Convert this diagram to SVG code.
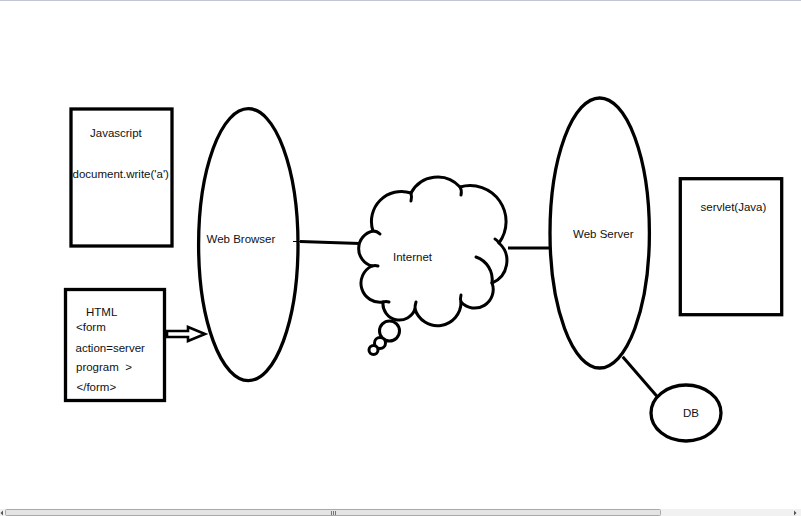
<svg xmlns="http://www.w3.org/2000/svg" width="801" height="516" viewBox="0 0 801 516">
<style>
.shape{fill:#fff;stroke:#000;stroke-width:3.3}
.line{fill:none;stroke:#000;stroke-width:3}
.t{font-family:"Liberation Sans",Arial,sans-serif;font-size:11.5px;fill:#111}
</style>
<rect x="0" y="0" width="801" height="516" fill="#fff"/>
<line x1="0" y1="0.5" x2="801" y2="0.5" stroke="#c2c6d2" stroke-width="1"/>

<g id="connectors">
<line class="line" x1="300" y1="241.5" x2="360" y2="243.5"/>
<line class="line" x1="508" y1="248" x2="551" y2="248"/>
<line class="line" x1="622.7" y1="356.7" x2="656.7" y2="396"/>
<polygon points="167,331 188,331 188,327 205,334 188,341 188,337 167,337" fill="#fff" stroke="#000" stroke-width="2.6" stroke-linejoin="miter"/>
</g>

<g id="javascript">
<rect class="shape" x="71" y="109" width="101" height="137"/>
<text class="t" x="90" y="137">Javascript</text>
<text class="t" x="72.5" y="178">document.write('a')</text>
</g>

<g id="html">
<rect class="shape" x="65.5" y="289.5" width="99" height="111"/>
<text class="t" x="86" y="316">HTML</text>
<text class="t" x="76" y="331">&lt;form</text>
<text class="t" x="75.5" y="352">action=server</text>
<text class="t" x="76" y="371">program&#160; &gt;</text>
<text class="t" x="76.5" y="391">&lt;/form&gt;</text>
</g>

<g id="web-browser">
<ellipse class="shape" cx="248.3" cy="244.7" rx="49.7" ry="136"/>
<text class="t" x="206.5" y="243">Web Browser</text>
<g stroke="#000" stroke-width="1">
<line x1="293" y1="241.5" x2="303" y2="241.5"/>
<line x1="298" y1="236.5" x2="298" y2="246.5"/>
</g>
</g>

<g id="internet">
<path class="line" stroke-width="3.4" stroke-linejoin="round" d="M373,231 A30,30 0 0,1 411,193 A30,30 0 0,1 460,187 A36,36 0 0,1 499,243 A24,24 0 0,1 492,283 A18.5,18.5 0 0,1 461,302 A23.5,23.5 0 0,1 415,309 A16.5,16.5 0 0,1 383,302 A19,19 0 0,1 372,266 A18,18 0 0,1 373,231 Z" fill="#fff"/>
<g class="line" stroke-width="3.2" stroke-linecap="round">
<path d="M373,231 Q377,231 380,234"/>
<path d="M411,193 Q412,197 411,201"/>
<path d="M460,187 Q462,190 461,195"/>
<path d="M499,243 Q497,240 495,239"/>
<path d="M476,257 A24,24 0 0,1 492,283"/>
<path d="M461,302 Q460,299 461,295"/>
<path d="M415,309 Q415,305 416,302"/>
<path d="M383,302 Q386,301 389,302"/>
<path d="M372,266 Q375,265 378,266"/>
</g>
<circle cx="389.5" cy="331" r="10" fill="#fff" stroke="#000" stroke-width="3"/>
<circle cx="380" cy="343" r="5.5" fill="#fff" stroke="#000" stroke-width="3"/>
<circle cx="373.5" cy="350" r="4.5" fill="#fff" stroke="#000" stroke-width="3"/>
<text class="t" x="393" y="261">Internet</text>
</g>

<g id="web-server">
<ellipse class="shape" cx="599.7" cy="233" rx="49.7" ry="135"/>
<text class="t" x="573" y="238">Web Server</text>
</g>

<g id="servlet">
<rect class="shape" x="680.3" y="178.7" width="101.4" height="136"/>
<text class="t" x="700.5" y="211">servlet(Java)</text>
</g>

<g id="db">
<ellipse class="shape" cx="686" cy="413" rx="35" ry="28"/>
<text class="t" x="683" y="417">DB</text>
</g>

<g id="scrollbar">
<rect x="0" y="509" width="801" height="7" fill="#f1f1f1"/>
<rect x="5.5" y="509.5" width="655" height="6" rx="1" fill="#e4e4e4" stroke="#a9a9a9" stroke-width="1"/>
<g stroke="#777" stroke-width="1">
<line x1="331.5" y1="511" x2="331.5" y2="515"/>
<line x1="333.5" y1="511" x2="333.5" y2="515"/>
<line x1="335.5" y1="511" x2="335.5" y2="515"/>
</g>
<polygon points="3,510.5 0.5,513 3,515.5" fill="#555"/>
<polygon points="794,510.5 796.5,513 794,515.5" fill="#555"/>
</g>
</svg>
